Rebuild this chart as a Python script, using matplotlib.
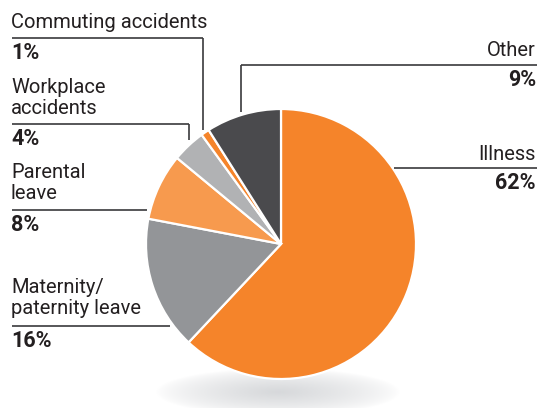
import matplotlib.pyplot as plt
import numpy as np

labels = ['Illness', 'Maternity/\npaternity leave', 'Parental\nleave',
          'Workplace\naccidents', 'Commuting accidents', 'Other']
shares = [62, 16, 8, 4, 1, 9]
colors = ['#F5842A', '#939598', '#F79A4E', '#B1B2B4', '#F5842A', '#4A4A4D']

W, H = 537, 408
fig = plt.figure(figsize=(W / 100, H / 100), dpi=100)
ax = fig.add_axes([0, 0, 1, 1])
ax.set_xlim(0, W)
ax.set_ylim(0, H)
ax.set_aspect('equal')
ax.axis('off')

plt.rcParams['font.family'] = ['Roboto', 'DejaVu Sans']

def Y(py):
    # pixel row from the top -> data y
    return H - py

# soft shadow under the pie
cx, cy, rx, ry = 278, 392, 122, 24
gx = np.linspace(cx - rx, cx + rx, 300)
gy = np.linspace(cy - ry, cy + ry, 80)
XX, YY = np.meshgrid(gx, gy)
d = np.sqrt(((XX - cx) / rx) ** 2 + ((YY - cy) / ry) ** 2)
alpha = np.clip(1 - d, 0, 1) ** 0.7 * 0.8
img = np.zeros((len(gy), len(gx), 4))
img[..., :3] = np.array([0.80, 0.81, 0.82])
img[..., 3] = alpha
ax.imshow(img, extent=[cx - rx, cx + rx, Y(cy + ry), Y(cy - ry)],
          origin='upper', zorder=0, interpolation='bilinear')

# pie
ax.pie(shares, colors=colors, startangle=90, counterclock=False,
       center=(281, Y(244)), radius=135, frame=True,
       wedgeprops=dict(edgecolor='white', linewidth=1.6))
ax.set_xlim(0, W)
ax.set_ylim(0, H)
ax.axis('off')

line_kw = dict(color='#3A3A3C', linewidth=1.2, solid_capstyle='butt', zorder=5)
txt_kw = dict(fontsize=14.5, color='#231F20', linespacing=1.1)
pct_kw = dict(fontsize=15.5, color='#231F20', fontweight='bold')

# left-hand labels: (name, pct, text y, line y, line end x, drop y)
left = [
    (labels[4], shares[4], 22, 38, 203, 130),
    (labels[3], shares[3], 98, 124, 189, 140),
    (labels[2], shares[2], 183, 210, 147, None),
    (labels[1], shares[1], 298, 326, 170, None),
]
for name, pct, ty, ly, lx, dy in left:
    ax.text(11, Y(ty), name, ha='left', va='center', **txt_kw)
    ax.plot([12, lx], [Y(ly), Y(ly)], **line_kw)
    if dy is not None:
        ax.plot([lx, lx], [Y(ly), Y(dy)], **line_kw)
    ax.text(11, Y(ly + 15), f'{pct}%', ha='left', va='center', **pct_kw)

# right-hand labels
right = [
    (labels[5], shares[5], 50, 65, 241, 112),
    (labels[0], shares[0], 155, 168, 394, None),
]
for name, pct, ty, ly, lx, dy in right:
    ax.text(536, Y(ty), name, ha='right', va='center', **txt_kw)
    ax.plot([lx, W], [Y(ly), Y(ly)], **line_kw)
    if dy is not None:
        ax.plot([lx, lx], [Y(ly), Y(dy)], **line_kw)
    ax.text(536, Y(ly + 15), f'{pct}%', ha='right', va='center', **pct_kw)

fig.savefig('out.png', dpi=100)
